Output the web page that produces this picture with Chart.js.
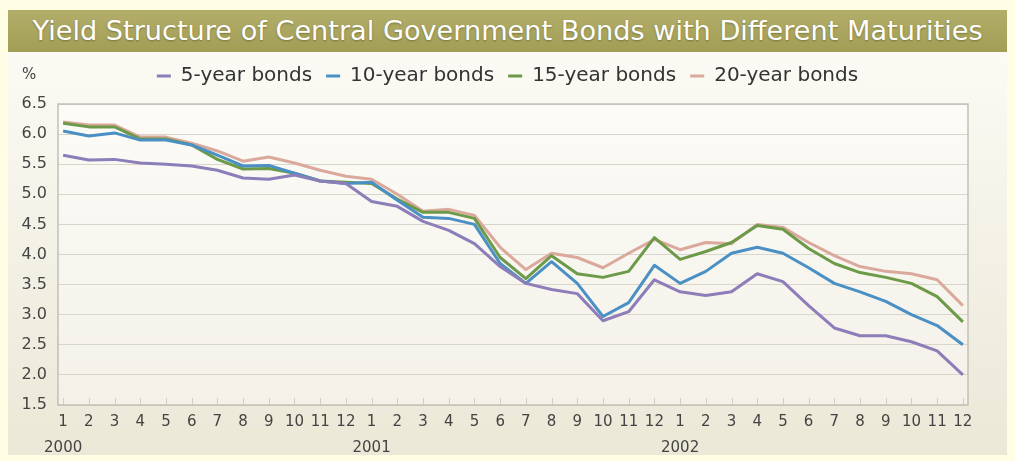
<!DOCTYPE html>
<html>
<head>
<meta charset="utf-8">
<script src="https://cdn.jsdelivr.net/npm/chart.js@4.4.1/dist/chart.umd.min.js"></script>
<style>
  html, body { margin: 0; padding: 0; }
  body { width: 1015px; height: 461px; background: #fffde4; position: relative; overflow: hidden; font-family: "DejaVu Sans", sans-serif; }
  #title { position: absolute; left: 8px; top: 10px; width: 999px; height: 42px; background: linear-gradient(#b2ad69, #a39e56); text-align: center; line-height: 42px; overflow: hidden; }
  #titleText { display: inline-block; color: #fff; font-size: 27px; text-shadow: 0 1px 2px rgba(60, 60, 20, 0.45); transform-origin: center; white-space: nowrap; }
  #panel { position: absolute; left: 8px; top: 52px; width: 999px; height: 403px; background: linear-gradient(#fbfaf4, #ebe8d7); }
</style>
</head>
<body>
<div id="title"><span id="titleText">Yield Structure of Central Government Bonds with Different Maturities</span></div>
<div id="panel"><canvas id="myChart"></canvas></div>
<script>
// months and years along the x axis
const years = ['2000', '2001', '2002'];
const months = ['1', '2', '3', '4', '5', '6', '7', '8', '9', '10', '11', '12'];

// yields in %, one value per month, Jan 2000 .. Dec 2002
const bonds5 = [
  5.65, 5.57, 5.58, 5.52, 5.50, 5.47, 5.40, 5.27, 5.25, 5.32, 5.22, 5.18,
  4.88, 4.80, 4.55, 4.40, 4.18, 3.80, 3.52, 3.42, 3.35, 2.90, 3.05, 3.58,
  3.38, 3.32, 3.38, 3.68, 3.55, 3.15, 2.78, 2.65, 2.65, 2.55, 2.40, 2.00
];
const bonds10 = [
  6.05, 5.97, 6.02, 5.90, 5.90, 5.82, 5.65, 5.47, 5.48, 5.35, 5.22, 5.18,
  5.20, 4.90, 4.62, 4.60, 4.50, 3.85, 3.52, 3.88, 3.52, 2.97, 3.20, 3.82,
  3.52, 3.72, 4.02, 4.12, 4.02, 3.78, 3.52, 3.38, 3.22, 3.00, 2.82, 2.50
];
const bonds15 = [
  6.18, 6.12, 6.12, 5.92, 5.92, 5.82, 5.58, 5.42, 5.43, 5.35, 5.22, 5.20,
  5.18, 4.92, 4.70, 4.70, 4.60, 3.95, 3.60, 3.98, 3.68, 3.62, 3.72, 4.28,
  3.92, 4.05, 4.20, 4.48, 4.42, 4.10, 3.85, 3.70, 3.62, 3.52, 3.30, 2.88
];
const bonds20 = [
  6.20, 6.15, 6.15, 5.95, 5.95, 5.85, 5.72, 5.55, 5.62, 5.52, 5.40, 5.30,
  5.25, 5.00, 4.72, 4.75, 4.65, 4.12, 3.75, 4.02, 3.95, 3.78, 4.02, 4.25,
  4.08, 4.20, 4.18, 4.50, 4.45, 4.20, 3.98, 3.80, 3.72, 3.68, 3.58, 3.15
];
const seriesNames = ['5-year bonds', '10-year bonds', '15-year bonds', '20-year bonds'];
const seriesColors = ['#8d7db8', '#4a90c4', '#6c9a48', '#dba99c'];

// squeeze the title into the bar like the original condensed type
const titleSpan = document.getElementById('titleText');
titleSpan.style.transform = 'scaleX(' + (950 / titleSpan.getBoundingClientRect().width) + ')';

const toPoints = arr => arr.map((v, i) => ({ x: i, y: v }));

const plotFrame = {
  id: 'plotFrame',
  beforeInit(chart) {
    // fixed legend band so the plot starts where the original one does
    const fit = chart.legend.fit;
    chart.legend.fit = function () {
      fit.call(this);
      this.height = 52;
    };
  },
  afterLayout(chart) {
    // centre the legend on the whole panel, not only the padded area
    chart.legend.right = chart.width;
    chart.legend.width = chart.width - chart.legend.left;
  },
  beforeDraw(chart) {
    const { ctx, chartArea: a } = chart;
    const g = ctx.createLinearGradient(0, a.top, 0, a.bottom);
    g.addColorStop(0, '#fcfbf7');
    g.addColorStop(1, '#f3f1e8');
    ctx.save();
    ctx.fillStyle = g;
    ctx.fillRect(a.left, a.top, a.right - a.left, a.bottom - a.top);
    ctx.restore();
  },
  beforeDatasetsDraw(chart) {
    const { ctx, chartArea: a, scales } = chart;
    ctx.save();
    ctx.strokeStyle = '#d2d0c6';
    ctx.lineWidth = 1;
    scales.x.ticks.forEach(t => {
      const px = Math.round(scales.x.getPixelForValue(t.value)) + 0.5;
      ctx.beginPath();
      ctx.moveTo(px, a.bottom - 7);
      ctx.lineTo(px, a.bottom);
      ctx.stroke();
    });
    ctx.strokeStyle = '#c2c0b8';
    ctx.lineWidth = 1.5;
    ctx.strokeRect(a.left, a.top, a.right - a.left, a.bottom - a.top);
    ctx.restore();
  },
  afterDraw(chart) {
    const ctx = chart.ctx;
    ctx.save();
    ctx.fillStyle = '#444';
    ctx.font = '15px "DejaVu Sans"';
    ctx.textBaseline = 'middle';
    ctx.fillText('%', 14, 23);
    ctx.restore();
  }
};

document.addEventListener('DOMContentLoaded', function () {
  const ctx = document.getElementById('myChart').getContext('2d');
  const allSeries = [bonds5, bonds10, bonds15, bonds20];

  new Chart(ctx, {
    type: 'line',
    data: {
      datasets: allSeries.map((s, i) => ({
        label: seriesNames[i],
        data: toPoints(s),
        borderColor: seriesColors[i],
        backgroundColor: seriesColors[i],
        borderWidth: 3,
        pointRadius: 0,
        tension: 0,
        borderJoinStyle: 'round'
      }))
    },
    options: {
      responsive: true,
      maintainAspectRatio: false,
      animation: false,
      layout: { padding: { top: 0, left: 0, right: 39, bottom: 0 } },
      plugins: {
        legend: {
          position: 'top',
          labels: {
            usePointStyle: true,
            pointStyle: 'line',
            pointStyleWidth: 14,
            boxHeight: 20,
            padding: 14,
            color: '#333',
            font: { family: '"DejaVu Sans"', size: 20, lineHeight: 1 }
          }
        },
        tooltip: { enabled: false }
      },
      scales: {
        x: {
          type: 'linear',
          min: -0.2,
          max: 35.2,
          afterFit(s) { s.height = 50; },
          grid: { display: false, drawTicks: false },
          border: { display: false },
          ticks: {
            stepSize: 1,
            includeBounds: false,
            autoSkip: false,
            maxRotation: 0,
            padding: 4,
            color: '#444',
            font: { family: '"DejaVu Sans"', size: 15, lineHeight: 1.75 },
            callback: function (value) {
              const i = Math.round(value);
              const m = months[i % 12];
              return i % 12 === 0 ? [m, years[i / 12]] : m;
            }
          }
        },
        y: {
          min: 1.5,
          max: 6.5,
          afterFit(s) { s.width = 50; },
          grid: { color: '#d8d5ca', lineWidth: 1, drawTicks: false },
          border: { display: false },
          ticks: {
            stepSize: 0.5,
            padding: 11,
            color: '#444',
            font: { family: '"DejaVu Sans"', size: 16 },
            callback: v => v.toFixed(1)
          }
        }
      }
    },
    plugins: [plotFrame]
  });
});
</script>
</body>
</html>
